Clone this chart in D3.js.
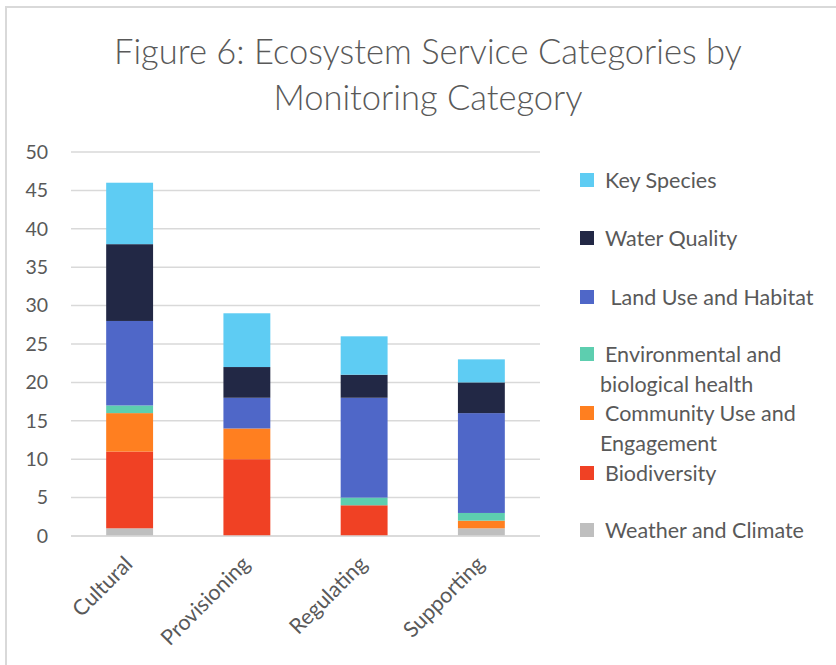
<!DOCTYPE html>
<html>
<head>
<meta charset="utf-8">
<script src="https://cdn.jsdelivr.net/npm/d3@7"></script>
<style>
  html, body { margin: 0; padding: 0; background: #fff; }
  svg { display: block; font-family: Lato, "Open Sans", sans-serif; }
</style>
</head>
<body>
<svg id="chart" width="836" height="665"></svg>
<script>
// Monitoring categories along the x axis
const categories = ["Cultural", "Provisioning", "Regulating", "Supporting"];

// Ecosystem service series, stacked bottom to top
const weatherClimate  = [1, 0, 0, 1];
const biodiversity    = [10, 10, 4, 0];
const communityUse    = [5, 4, 0, 1];
const envHealth       = [1, 0, 1, 1];
const landUseHabitat  = [11, 4, 13, 13];
const waterQuality    = [10, 4, 3, 4];
const keySpecies      = [8, 7, 5, 3];

const seriesNames = [
  "Weather and Climate", "Biodiversity", "Community Use and Engagement",
  "Environmental and biological health", "Land Use and Habitat",
  "Water Quality", "Key Species"
];
const seriesValues = [weatherClimate, biodiversity, communityUse, envHealth,
                      landUseHabitat, waterQuality, keySpecies];
const seriesColors = ["#BFBFBF", "#F04124", "#FF7F20", "#5DCEAF",
                      "#4F67C8", "#222845", "#5ECCF3"];

const yTicks = [0, 5, 10, 15, 20, 25, 30, 35, 40, 45, 50];

// Legend entries, top to bottom, with their wrapped lines
const legendLines = [
  ["Key Species"],
  ["Water Quality"],
  [" Land Use and Habitat"],
  ["Environmental and", "biological health"],
  ["Community Use and", "Engagement"],
  ["Biodiversity"],
  ["Weather and Climate"]
];
const legendSeries = [6, 5, 4, 3, 2, 1, 0];

const svg = d3.select("#chart");
const textColor = "#595959";
const gridColor = "#D9D9D9";

// Frame edges (left and top)
svg.append("line").attr("x1", 6).attr("x2", 6).attr("y1", 6).attr("y2", 665)
  .attr("stroke", gridColor).attr("stroke-width", 2);
svg.append("line").attr("x1", 6).attr("x2", 836).attr("y1", 7).attr("y2", 7)
  .attr("stroke", gridColor).attr("stroke-width", 2);

// Title
const title = svg.append("text")
  .attr("text-anchor", "middle")
  .attr("fill", textColor)
  .attr("font-size", 34.5)
  .attr("font-weight", 300);
title.append("tspan").attr("x", 428).attr("y", 64).text("Figure 6: Ecosystem Service Categories by");
title.append("tspan").attr("x", 428).attr("y", 110).text("Monitoring Category");

// Scales
const x = d3.scaleBand().domain(categories).range([71, 540]).paddingInner(0.6).paddingOuter(0.3);
const y = d3.scaleLinear().domain([0, 50]).range([536, 152]);

// Grid lines
svg.append("g").selectAll("line").data(yTicks).join("line")
  .attr("x1", 71).attr("x2", 540)
  .attr("y1", d => y(d)).attr("y2", d => y(d))
  .attr("stroke", gridColor).attr("stroke-width", 1.5);

// Y axis labels
const yAxis = svg.append("g").attr("transform", "translate(71,0)")
  .call(d3.axisLeft(y).tickValues(yTicks).tickSize(0).tickPadding(23));
yAxis.select(".domain").remove();
yAxis.selectAll("text").attr("fill", textColor).attr("font-size", 19.5)
  .attr("font-family", "Lato, 'Open Sans', sans-serif");

// Stacked bars
const table = categories.map((c, i) => {
  const row = { category: c };
  seriesNames.forEach((n, s) => { row[n] = seriesValues[s][i]; });
  return row;
});
const stacked = d3.stack().keys(seriesNames)(table);

svg.append("g").selectAll("g").data(stacked).join("g")
  .attr("fill", (d, i) => seriesColors[i])
  .selectAll("rect").data(d => d).join("rect")
  .attr("x", d => x(d.data.category))
  .attr("width", x.bandwidth())
  .attr("y", d => y(d[1]))
  .attr("height", d => y(d[0]) - y(d[1]));

// Baseline over the bars
svg.append("line").attr("x1", 71).attr("x2", 540)
  .attr("y1", y(0)).attr("y2", y(0))
  .attr("stroke", gridColor).attr("stroke-width", 1.5);

// X axis category labels, rotated
svg.append("g").selectAll("text").data(categories).join("text")
  .attr("transform", d => `translate(${x(d) + x.bandwidth() / 2 - 1},${y(0) + 24}) rotate(-45)`)
  .attr("text-anchor", "end")
  .attr("dy", "0.35em")
  .attr("fill", textColor)
  .attr("font-size", 21.5)
  .text(d => d);

// Legend
const legendY = [180, 238, 297, 354, 413, 473, 530];
const legend = svg.append("g");
legendLines.forEach((lines, i) => {
  const s = legendSeries[i];
  legend.append("rect")
    .attr("x", 580).attr("y", legendY[i] - 7).attr("width", 14).attr("height", 14)
    .attr("fill", seriesColors[s]);
  lines.forEach((line, j) => {
    legend.append("text")
      .attr("x", j === 0 ? 605 : 600)
      .attr("y", legendY[i] + j * 30)
      .attr("dy", "0.35em")
      .attr("fill", textColor)
      .attr("font-size", 21.5)
      .attr("xml:space", "preserve")
      .style("white-space", "pre")
      .text(line);
  });
});
</script>
</body>
</html>
